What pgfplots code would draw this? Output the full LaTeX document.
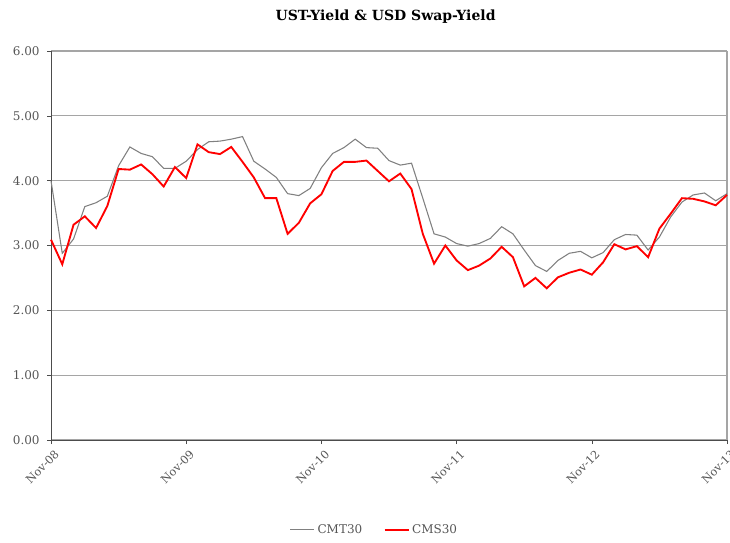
\documentclass[border=0pt]{standalone}
\usepackage{fontspec}
\setmainfont{DejaVu Serif}
\usepackage{pgfplots}
\pgfplotsset{compat=1.18}
\definecolor{cmtgray}{RGB}{128,128,128}
\definecolor{cmsred}{RGB}{255,0,0}
\definecolor{gridgray}{RGB}{165,165,165}
\definecolor{labelgray}{RGB}{85,85,85}

\pgfplotstableread{
m cmt cms
0 4.00 3.09
1 2.88 2.71
2 3.10 3.32
3 3.60 3.45
4 3.66 3.27
5 3.76 3.61
6 4.23 4.18
7 4.52 4.17
8 4.42 4.25
9 4.37 4.10
10 4.19 3.91
11 4.19 4.21
12 4.30 4.04
13 4.48 4.56
14 4.60 4.44
15 4.61 4.41
16 4.64 4.52
17 4.68 4.29
18 4.30 4.05
19 4.18 3.73
20 4.05 3.73
21 3.80 3.18
22 3.77 3.35
23 3.88 3.65
24 4.20 3.79
25 4.42 4.15
26 4.51 4.29
27 4.64 4.29
28 4.51 4.31
29 4.50 4.15
30 4.31 3.99
31 4.24 4.11
32 4.27 3.87
33 3.73 3.18
34 3.18 2.72
35 3.13 3.00
36 3.03 2.77
37 2.99 2.62
38 3.03 2.69
39 3.11 2.80
40 3.29 2.98
41 3.18 2.82
42 2.93 2.37
43 2.69 2.50
44 2.60 2.34
45 2.77 2.51
46 2.88 2.58
47 2.91 2.63
48 2.81 2.55
49 2.89 2.74
50 3.09 3.02
51 3.17 2.94
52 3.16 2.99
53 2.93 2.82
54 3.13 3.26
55 3.44 3.49
56 3.67 3.73
57 3.78 3.72
58 3.81 3.68
59 3.69 3.62
60 3.80 3.78
}\yields

\begin{document}
\begin{tikzpicture}
% page frame in px of the reference (1px = 0.75pt), axis box at the origin
\useasboundingbox (-38.25pt,-76.5pt) rectangle (509.25pt,330pt);
\begin{axis}[
  scale only axis,
  width=507pt, height=291.75pt,
  xmin=0, xmax=60, ymin=0, ymax=6,
  xtick={0,12,24,36,48,60},
  xticklabels={Nov-08,Nov-09,Nov-10,Nov-11,Nov-12,Nov-13},
  xticklabel style={rotate=45, anchor=north east, font=\fontsize{8.5}{10}\selectfont, text=labelgray, inner sep=1pt, yshift=-3pt, xshift=0pt},
  ytick={0,1,...,6},
  yticklabel style={font=\fontsize{9}{11}\selectfont, text=labelgray, xshift=-2pt},
  /pgf/number format/assume math mode=true,
  yticklabel={\pgfmathprintnumber[fixed, fixed zerofill, precision=2]{\tick}},
  tick align=outside, major tick length=3pt,
  tick style={black!70, thin},
  ymajorgrids, grid style={gridgray, line width=0.9pt},
  separate axis lines,
  y axis line style={black!70, line width=0.7pt},
  x axis line style={black!70, line width=0.7pt},
  axis x line*=bottom, axis y line*=left,
  title={UST-Yield \& USD Swap-Yield},
  title style={font=\fontsize{10.5}{12}\selectfont\bfseries, at={(0.495,1)}, anchor=center, yshift=19.5pt},
  legend style={at={(0.479,-0.231)}, anchor=center, draw=none, fill=none,
    font=\fontsize{9}{11}\selectfont, text=labelgray, legend columns=2,
    /tikz/every even column/.append style={column sep=14pt},
    /tikz/every odd column/.append style={column sep=0pt}},
  legend image code/.code={\draw[#1] (0pt,0pt) -- (18pt,0pt);},
  clip=false,
]
\draw[gridgray, line width=0.9pt] (axis cs:60,0) -- (axis cs:60,6);
\addplot[cmtgray, line width=0.8pt] table[x=m, y=cmt] {\yields};
\addlegendentry{CMT30}
\addplot[cmsred, line width=1.4pt] table[x=m, y=cms] {\yields};
\addlegendentry{CMS30}
\end{axis}
\end{tikzpicture}
\end{document}
